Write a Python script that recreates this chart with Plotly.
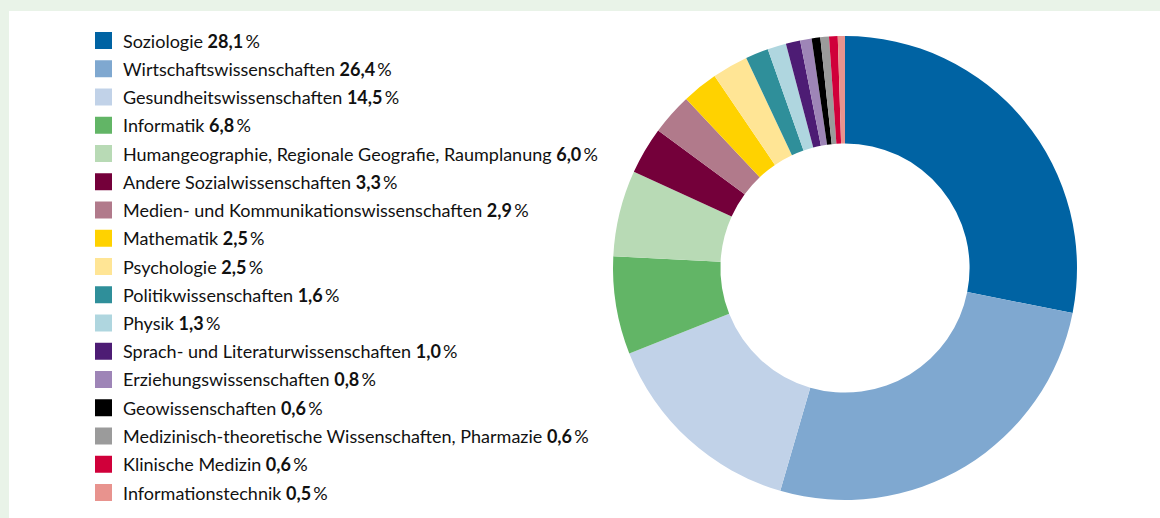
import plotly.graph_objects as go

# --- data ---
faecher = ["Soziologie", "Wirtschaftswissenschaften", "Gesundheitswissenschaften", "Informatik",
           "Humangeographie, Regionale Geografie, Raumplanung", "Andere Sozialwissenschaften",
           "Medien- und Kommunikationswissenschaften", "Mathematik", "Psychologie",
           "Politikwissenschaften", "Physik", "Sprach- und Literaturwissenschaften",
           "Erziehungswissenschaften", "Geowissenschaften",
           "Medizinisch-theoretische Wissenschaften, Pharmazie", "Klinische Medizin",
           "Informationstechnik"]
anteile = [28.1, 26.4, 14.5, 6.8, 6.0, 3.3, 2.9, 2.5, 2.5, 1.6, 1.3, 1.0, 0.8, 0.6, 0.6, 0.6, 0.5]

farben = ["#0063a3", "#7fa8d0", "#c1d2e8", "#62b566", "#b8dab5", "#74003a", "#b17a8b",
          "#ffd200", "#ffe595", "#2f8f9a", "#afd6df", "#4d1c74", "#9e85b7", "#000000",
          "#9b9b9b", "#d0003a", "#e8938e"]

W, H = 1160, 518

fig = go.Figure()

cx, cy, r = 845, 268, 232  # donut centre / radius in px (cy from top)
fig.add_trace(go.Pie(
    labels=faecher, values=anteile, sort=False, direction="clockwise", rotation=0,
    hole=0.537, textinfo="none", marker=dict(colors=farben, line=dict(width=0)),
    domain=dict(x=[(cx - r) / W, (cx + r) / W], y=[(H - cy - r) / H, (H - cy + r) / H]),
    showlegend=False, hovertemplate="%{label}: %{value:.1f} %<extra></extra>",
))

# white panel on green frame
shapes = [dict(type="rect", xref="paper", yref="paper", x0=9 / W, x1=1, y0=0, y1=(H - 11) / H,
               fillcolor="white", line=dict(width=0), layer="below")]
annotations = []

# hand-made legend
y_top, step = 40.5, 28.25
for i, (name, val, col) in enumerate(zip(faecher, anteile, farben)):
    yc = y_top + i * step
    shapes.append(dict(type="rect", xref="paper", yref="paper",
                       x0=95 / W, x1=112 / W, y0=(H - yc - 8.5) / H, y1=(H - yc + 8.5) / H,
                       fillcolor=col, line=dict(width=0)))
    txt = f"{name} <b>{val:.1f}".replace(".", ",") + "</b>\u2009%"
    annotations.append(dict(text=txt, xref="paper", yref="paper", x=121 / W, y=(H - yc) / H,
                            xanchor="left", yanchor="middle", showarrow=False,
                            font=dict(size=18, color="#111111", family="Lato")))

fig.update_layout(
    width=W, height=H, margin=dict(l=0, r=0, t=0, b=0),
    paper_bgcolor="#e9f3e8", plot_bgcolor="white",
    shapes=shapes, annotations=annotations,
)

fig.write_html("out.html", config={"displayModeBar": False},
               post_script="document.body.style.margin='0';")
